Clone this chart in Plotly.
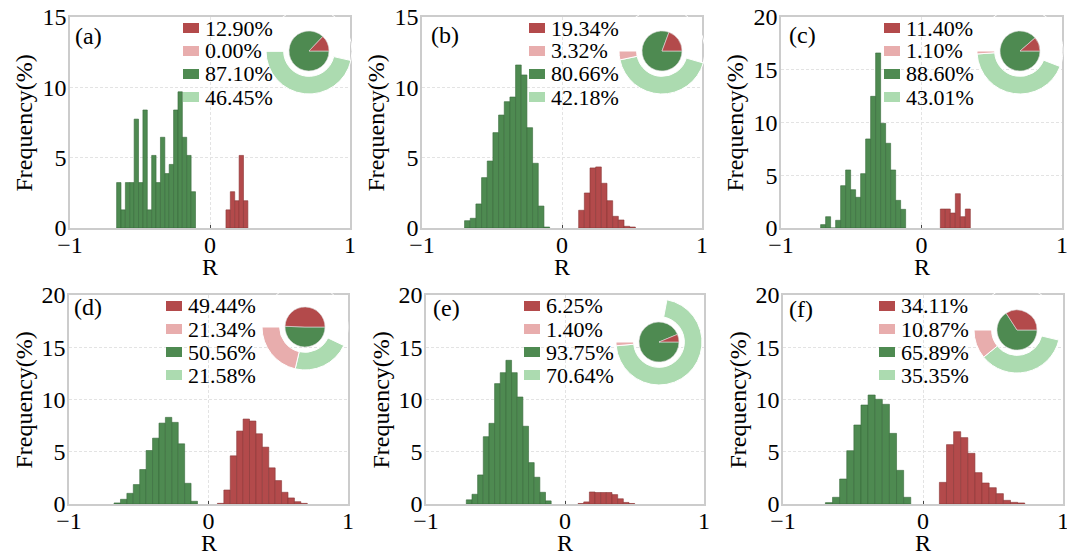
import plotly.graph_objects as go

# the page body adds an 8px margin at top/left; the figure is offset by it
OFF = 8
W, H = 1075 - OFF, 555 - OFF

# ---------------- data ----------------
panel_labels = ["(a)", "(b)", "(c)", "(d)", "(e)", "(f)"]
pct_red = [12.90, 19.34, 11.40, 49.44, 6.25, 34.11]
pct_light_red = [0.00, 3.32, 1.10, 21.34, 1.40, 10.87]
pct_green = [87.10, 80.66, 88.60, 50.56, 93.75, 65.89]
pct_light_green = [46.45, 42.18, 43.01, 21.58, 70.64, 35.35]
y_max = [15, 15, 20, 20, 20, 20]
x_ticks = [-1, 0, 1]

bin_width = [0.0313, 0.0405, 0.0356, 0.046, 0.0407, 0.0508]
green_start = [-0.667, -0.696, -0.718, -0.677, -0.710, -0.697]
red_start = [0.114, 0.119, 0.134, 0.064, 0.094, 0.117]

green_a = [3.23, 1.29, 3.23, 3.23, 7.74, 3.23, 8.39, 1.29, 5.16, 3.23, 6.45, 3.87, 4.52, 8.39, 9.68, 6.45, 5.16, 2.58]
red_a = [1.29, 2.58, 1.94, 5.16, 1.94]
green_b = [0.52, 0.69, 1.71, 3.58, 4.76, 6.78, 8.03, 8.98, 9.31, 11.59, 10.88, 7.13, 4.60, 1.56, 0.07]
red_b = [1.26, 2.49, 4.27, 4.34, 3.18, 1.94, 0.83, 0.57, 0.12, 0.07]
green_c = [0.32, 1.07, 0.00, 0.73, 4.01, 5.50, 3.63, 2.91, 5.15, 8.44, 12.48, 16.59, 9.92, 8.03, 5.50, 2.62, 1.77]
red_c = [1.80, 1.80, 1.42, 3.25, 1.07, 1.80]
green_d = [0.10, 0.45, 1.02, 1.86, 3.30, 5.12, 6.30, 7.74, 8.29, 7.81, 5.76, 1.98, 0.26]
red_d = [0.06, 1.34, 4.61, 6.98, 8.13, 7.94, 6.72, 5.44, 3.46, 2.24, 1.12, 0.58, 0.22, 0.06]
green_e = [0.40, 0.93, 2.78, 6.44, 7.72, 11.52, 12.57, 13.75, 12.57, 10.24, 7.44, 3.96, 2.56, 1.12, 0.30]
red_e = [0.05, 0.20, 1.15, 1.10, 1.10, 1.10, 0.90, 0.50, 0.15, 0.05]
green_f = [0.13, 0.64, 2.39, 5.10, 7.56, 9.47, 10.43, 10.02, 9.54, 6.76, 3.22, 0.64]
red_f = [2.07, 5.68, 6.92, 6.35, 4.85, 3.00, 2.01, 1.56, 0.99, 0.35, 0.16, 0.10]

green_heights = [green_a, green_b, green_c, green_d, green_e, green_f]
red_heights = [red_a, red_b, red_c, red_d, red_e, red_f]

# ---------------- style / layout ----------------
RED = "#b34a4b"
RED_EDGE = "#8a3536"
GREEN = "#4e8a51"
GREEN_EDGE = "#386a3b"
LIGHT_RED = "#e8adad"
LIGHT_GREEN = "#acdbb0"
FONT = "Liberation Serif"

# plot boxes in page pixels: (left, right, top, bottom)
boxes = [(70, 350, 17, 228), (422, 702, 17, 228), (781, 1062, 17, 228),
         (69, 348, 295, 504), (426, 704, 295, 504), (783, 1063, 295, 504)]
pie_centers = [(309, 51), (662, 51), (1020, 51), (305, 327), (659, 342), (1017, 330)]
legend_x = [183, 529, 884, 166, 524, 879]
label_pos = [(73, 36), (429, 35), (787, 35), (72, 307), (431, 308), (787, 309)]
R_OUT, R_PIE = 43, 20


def px(x):
    return min(max((x - OFF) / W, 0.0), 1.0)


def py(y):
    return min(max(1 - (y - OFF) / H, 0.0), 1.0)


fig = go.Figure()
layout = dict(
    template="none",
    width=W, height=H,
    margin=dict(l=0, r=0, t=0, b=0, pad=0, autoexpand=False),
    paper_bgcolor="white", plot_bgcolor="white",
    showlegend=False, barmode="overlay",
    font=dict(family=FONT, size=24, color="black"),
)
shapes = []
annotations = []

for i in range(6):
    n = "" if i == 0 else str(i + 1)
    xa, ya = "x" + n, "y" + n
    l, r, t, b = boxes[i]
    w = bin_width[i]
    gx = [green_start[i] + (k + 0.5) * w for k in range(len(green_heights[i]))]
    rx = [red_start[i] + (k + 0.5) * w for k in range(len(red_heights[i]))]
    fig.add_trace(go.Bar(x=gx, y=green_heights[i], width=w, xaxis=xa, yaxis=ya,
                         marker=dict(color=GREEN, line=dict(color=GREEN_EDGE, width=0.6)),
                         hoverinfo="skip"))
    fig.add_trace(go.Bar(x=rx, y=red_heights[i], width=w, xaxis=xa, yaxis=ya,
                         marker=dict(color=RED, line=dict(color=RED_EDGE, width=0.6)),
                         hoverinfo="skip"))

    common = dict(showline=True, mirror=True, linecolor="#cccccc", linewidth=1.5,
                  showgrid=True, gridcolor="#e3e3e3", griddash="3px,2px", gridwidth=1,
                  zeroline=False, automargin=False, ticklabeloverflow="allow",
                  tickfont=dict(family=FONT, size=24, color="black"))
    layout["xaxis" + n] = dict(common, domain=[px(l), px(r)], anchor=ya,
                               range=[-1, 1], tickvals=x_ticks, ticks="inside",
                               ticklen=3, tickcolor="#444444", tickwidth=1,
                               ticklabelstandoff=-6)
    layout["yaxis" + n] = dict(common, domain=[py(b), py(t)], anchor=xa,
                               range=[0, y_max[i]], dtick=5, ticks="",
                               ticklabelstandoff=-3)

    # axis titles
    annotations.append(dict(text="R", xref="paper", yref="paper",
                            x=px((l + r) / 2), y=py(b + 38.5), xanchor="center", yanchor="middle",
                            showarrow=False, font=dict(family=FONT, size=24)))
    annotations.append(dict(text="Frequency(%)", xref="paper", yref="paper", textangle=-90,
                            x=px(l - 46), y=py((t + b) / 2 + 1), xanchor="center", yanchor="middle",
                            showarrow=False, font=dict(family=FONT, size=24)))
    # panel label
    annotations.append(dict(text=panel_labels[i], xref="paper", yref="paper",
                            x=px(label_pos[i][0]), y=py(label_pos[i][1]),
                            xanchor="left", yanchor="middle", showarrow=False,
                            font=dict(family=FONT, size=24)))
    # custom legend
    vals = [pct_red[i], pct_light_red[i], pct_green[i], pct_light_green[i]]
    cols = [RED, LIGHT_RED, GREEN, LIGHT_GREEN]
    lx = legend_x[i]
    for k in range(4):
        cy = t + 11 + k * 23
        shapes.append(dict(type="rect", xref="paper", yref="paper",
                           x0=px(lx), x1=px(lx + 16), y0=py(cy + 5), y1=py(cy - 5),
                           fillcolor=cols[k], line=dict(width=0)))
        annotations.append(dict(text=f"{vals[k]:.2f}%", xref="paper", yref="paper",
                                x=px(lx + 20), y=py(cy), xanchor="left", yanchor="middle",
                                showarrow=False, font=dict(family=FONT, size=22)))

    # donut + pie inset
    cx, cy = pie_centers[i]
    lr, lg = pct_light_red[i], pct_light_green[i]
    fig.add_trace(go.Pie(values=[100 - lr - lg, lg, lr], sort=False, hole=0.59,
                         direction="clockwise", rotation=270, textinfo="none",
                         marker=dict(colors=["rgba(0,0,0,0)", LIGHT_GREEN, LIGHT_RED],
                                     line=dict(color="white", width=1)),
                         domain=dict(x=[px(cx - R_OUT), px(cx + R_OUT)],
                                     y=[py(cy + R_OUT), py(cy - R_OUT)]),
                         hoverinfo="skip", showlegend=False))
    fig.add_trace(go.Pie(values=[pct_green[i], pct_red[i]], sort=False,
                         direction="clockwise", rotation=90, textinfo="none",
                         marker=dict(colors=[GREEN, RED], line=dict(color="#dddddd", width=0.6)),
                         domain=dict(x=[px(cx - R_PIE), px(cx + R_PIE)],
                                     y=[py(cy + R_PIE), py(cy - R_PIE)]),
                         hoverinfo="skip", showlegend=False))

layout["shapes"] = shapes
layout["annotations"] = annotations
fig.update_layout(**layout)
fig.write_html("out.html")
